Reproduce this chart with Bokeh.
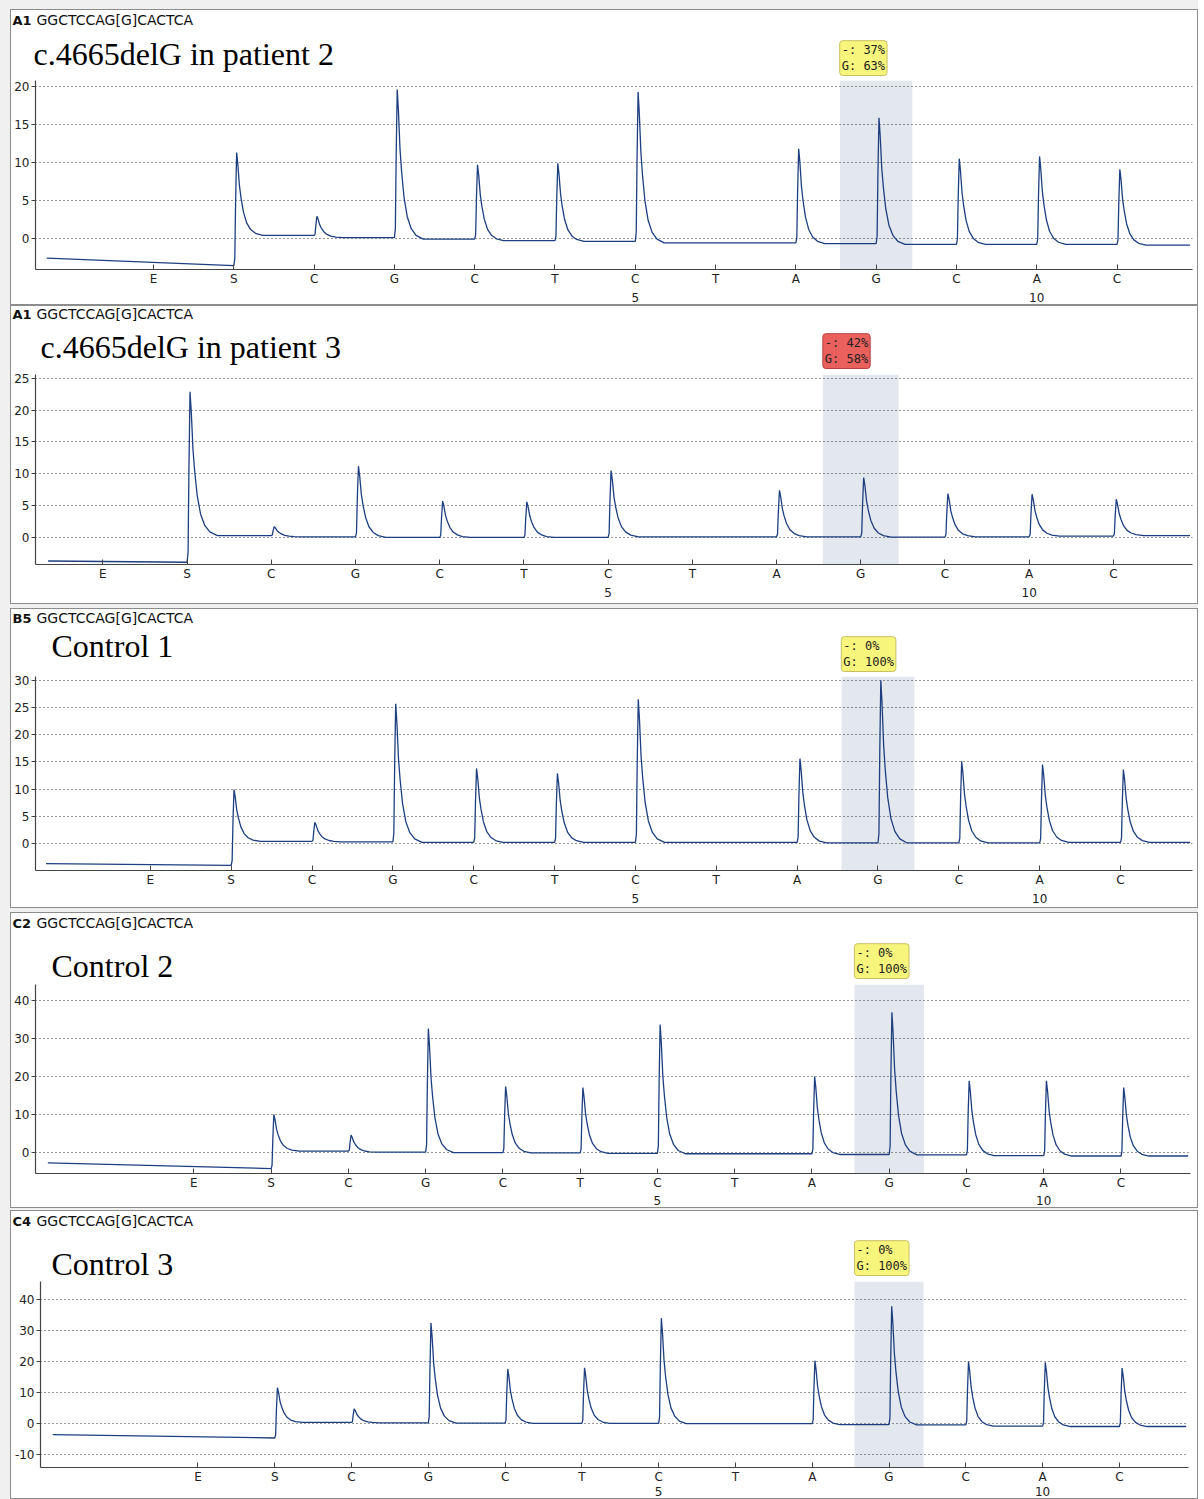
from bokeh.plotting import figure
from bokeh.models import FixedTicker, LinearAxis, Label, BoxAnnotation, Range1d, Spacer
from bokeh.layouts import column, row
from bokeh.embed import file_html
from bokeh.resources import INLINE

# ---------------- data ----------------
dispensations = ["E", "S", "C", "G", "C", "T", "C", "T", "A", "G", "C", "A", "C"]
seq_numbers = {6: "5", 11: "10"}
assay_seq = "GGCTCCAG[G]CACTCA"
well_ids = ["A1", "A1", "B5", "C2", "C4"]
titles = ["c.4665delG in patient 2", "c.4665delG in patient 3", "Control 1", "Control 2", "Control 3"]
del_pct = [37, 42, 0, 0, 0]
g_pct = [63, 58, 100, 100, 100]
variable_pos = 9  # the [G] dispensation

# peak tops (signal units) per dispensation, E has no peak
peaks_pat2 = [None, 11.3, 2.9, 19.6, 9.7, 9.9, 19.3, None, 11.8, 15.9, 10.5, 10.8, 9.1]
peaks_pat3 = [None, 22.9, 1.7, 11.2, 5.7, 5.6, 10.5, None, 7.4, 9.4, 6.9, 6.8, 6.0]
peaks_ctl1 = [None, 9.9, 3.9, 25.7, 13.8, 12.9, 26.5, None, 15.6, 30.0, 15.1, 14.5, 13.6]
peaks_ctl2 = [None, 10.0, 4.6, 32.6, 17.4, 17.1, 33.7, None, 20.0, 36.9, 18.9, 18.9, 17.1]
peaks_ctl3 = [None, 11.6, 4.8, 32.4, 17.6, 18.0, 34.0, None, 20.3, 37.8, 20.0, 19.8, 17.9]

# baseline level reached after each dispensation S..C
base_pat2 = [0.4, 0.1, -0.1, -0.3, -0.4, -0.6, -0.6, -0.7, -0.8, -0.8, -0.8, -0.9]
base_pat3 = [0.3, 0.1, 0.0, 0.0, 0.0, 0.1, 0.1, 0.1, 0.05, 0.1, 0.2, 0.3]
base_ctl1 = [0.4, 0.3, 0.2, 0.2, 0.2, 0.2, 0.2, 0.1, 0.1, 0.1, 0.2, 0.2]
base_ctl2 = [0.4, 0.1, 0.0, -0.1, -0.2, -0.3, -0.3, -0.5, -0.6, -0.8, -0.9, -0.9]
base_ctl3 = [0.4, 0.3, 0.2, 0.1, 0.1, 0.0, 0.0, -0.3, -0.4, -0.8, -0.9, -0.9]

# signal before the substrate peak: [at trace start, just before S]
pre_pat2 = [-2.6, -3.6]
pre_pat3 = [-3.7, -3.9]
pre_ctl1 = [-3.7, -4.0]
pre_ctl2 = [-2.7, -4.2]
pre_ctl3 = [-3.5, -4.6]

yticks_pat2 = [0, 5, 10, 15, 20]
yticks_pat3 = [0, 5, 10, 15, 20, 25]
yticks_ctl1 = [0, 5, 10, 15, 20, 25, 30]
yticks_ctl2 = [0, 10, 20, 30, 40]
yticks_ctl3 = [-10, 0, 10, 20, 30, 40]

panels_data = [
    (peaks_pat2, base_pat2, pre_pat2, yticks_pat2),
    (peaks_pat3, base_pat3, pre_pat3, yticks_pat3),
    (peaks_ctl1, base_ctl1, pre_ctl1, yticks_ctl1),
    (peaks_ctl2, base_ctl2, pre_ctl2, yticks_ctl2),
    (peaks_ctl3, base_ctl3, pre_ctl3, yticks_ctl3),
]

# ---------------- layout / style ----------------
CW = 1186  # canvas width inside panel border
# hh: header canvas height, ph: plot canvas height, pt/l/r/b: plot borders,
# hb: header baseline, tx/tb: title x / baseline, bb: result box bottom (header px),
# s2: standoff of the numbering axis
layout_cfg = [
    dict(hh=66, ph=228, pt=4, l=23, r=5, b=35, xr=(-1.47, 12.94), yr=(-4.1, 20.8), hb=14, tx=22, tb=54, bb=65, x0=-1.33, box="yellow", s2=4, gap_after=0),
    dict(hh=64, ph=233, pt=4, l=24, r=5, b=39, xr=(-0.80, 12.94), yr=(-4.25, 25.6), hb=12, tx=29, tb=51, bb=62, x0=-0.65, box="red", s2=4, gap_after=4),
    dict(hh=63, ph=235, pt=4, l=23, r=5, b=37, xr=(-1.42, 12.89), yr=(-4.96, 30.7), hb=13, tx=40, tb=47, bb=62, x0=-1.29, box="yellow", s2=4, gap_after=4),
    dict(hh=71, ph=223, pt=0, l=24, r=7, b=34, xr=(-2.05, 12.90), yr=(-5.5, 44.2), hb=14, tx=40, tb=63, bb=65, x0=-1.89, box="yellow", s2=3, gap_after=2),
    dict(hh=70, ph=217, pt=0, l=29, r=9, b=30, xr=(-2.05, 12.90), yr=(-14.1, 45.8), hb=14, tx=40, tb=63, bb=64, x0=-1.89, box="yellow", s2=0, gap_after=0),
]
BOX_COLORS = {"yellow": ("#f8f57c", "#c8c060"), "red": ("#e9605c", "#b84040")}
TRACE_COLOR = "#1d3f80"
AXIS_COLOR = "#444444"
LABEL_COLOR = "#222222"
HEAD_DESC = 3    # descent of the 13px header font
TITLE_DESC = 7   # descent of the 32px title font

# peak shape template (offset from dispensation, fraction of height)
PROFILE_DX = [0.0, 0.012, 0.022, 0.035, 0.05, 0.07, 0.09, 0.12, 0.16, 0.21, 0.27, 0.36]
PROFILE_F = [0.0, 0.06, 0.55, 1.0, 0.86, 0.6, 0.45, 0.28, 0.15, 0.07, 0.025, 0.0]
PEAK_I = 3


def build_trace(peaks, base, pre, x0, x1):
    xs = [x0, 1.0]
    ys = [pre[0], pre[1]]
    prev = pre[1]
    for i in range(1, len(dispensations)):
        h = peaks[i]
        nb = base[i - 1]
        if h is None:
            xs.append(i + 0.3)
            ys.append(nb)
        else:
            for k, (dx, f) in enumerate(zip(PROFILE_DX, PROFILE_F)):
                b0 = prev if k <= PEAK_I else nb
                xs.append(i + dx)
                ys.append(b0 + f * (h - b0))
        prev = nb
    xs.append(x1)
    ys.append(prev)
    return xs, ys


items = [Spacer(height=9)]
for idx, ((peaks, base, pre, yticks), cfg) in enumerate(zip(panels_data, layout_cfg)):
    xr0, xr1 = cfg["xr"]
    frame_w = CW - cfg["l"] - cfg["r"]
    scale = frame_w / (xr1 - xr0)
    hx0 = xr0 - cfg["l"] / scale

    def hx(px):
        return hx0 + px / scale

    # ---- header canvas: well id, sequence, title and allele-percentage box ----
    hh = cfg["hh"]
    head = figure(width=CW, height=hh,
                  x_range=Range1d(hx0, xr1 + cfg["r"] / scale),
                  y_range=Range1d(0, hh), output_backend="svg", toolbar_location=None,
                  x_axis_location=None, y_axis_location=None,
                  min_border=0, min_border_left=0, min_border_right=0,
                  min_border_top=0, min_border_bottom=0,
                  outline_line_color=None, background_fill_color="white",
                  border_fill_color="white")
    head.grid.visible = False
    hy = hh - cfg["hb"] - HEAD_DESC
    head.add_layout(Label(x=hx(1), y=hy, y_units="screen", text=well_ids[idx],
                          text_font="DejaVu Sans", text_font_style="bold",
                          text_font_size="13px", text_color="#111111", text_baseline="bottom"))
    head.add_layout(Label(x=hx(25), y=hy, y_units="screen", text=assay_seq,
                          text_font="DejaVu Sans", text_font_size="14px",
                          text_color="#111111", text_baseline="bottom"))
    head.add_layout(Label(x=hx(cfg["tx"]), y=hh - cfg["tb"] - TITLE_DESC, y_units="screen",
                          text=titles[idx], text_font="Liberation Serif", text_font_size="32px",
                          text_color="#000000", text_baseline="bottom"))
    fill, edge = BOX_COLORS[cfg["box"]]
    head.add_layout(Label(x=variable_pos - 0.45, y=hh - cfg["bb"], x_units="data", y_units="screen",
                          text=f"-: {del_pct[idx]}%\nG: {g_pct[idx]}%",
                          text_font="DejaVu Sans Mono", text_font_size="12px", text_color="#222222",
                          text_baseline="bottom", text_align="left",
                          background_fill_color=fill, background_fill_alpha=1.0,
                          border_line_color=edge, border_line_width=1,
                          padding=2, border_radius=3))

    # ---- pyrogram ----
    p = figure(width=CW, height=cfg["ph"], x_range=cfg["xr"], y_range=cfg["yr"],
               output_backend="svg", toolbar_location=None,
               min_border_left=cfg["l"], min_border_right=cfg["r"],
               min_border_top=cfg["pt"], min_border_bottom=cfg["b"],
               background_fill_color="white", border_fill_color="white",
               outline_line_color=None)

    p.add_layout(BoxAnnotation(left=variable_pos - 0.45, right=variable_pos + 0.45,
                               fill_color="#e3e7ee", fill_alpha=1.0, line_color=None,
                               level="image"))

    xs, ys = build_trace(peaks, base, pre, cfg["x0"], xr1 - 0.03)
    p.line(xs, ys, line_color=TRACE_COLOR, line_width=1.3)

    xa = p.xaxis[0]
    xa.ticker = FixedTicker(ticks=list(range(len(dispensations))))
    xa.major_label_overrides = {i: d for i, d in enumerate(dispensations)}
    xa.minor_tick_line_color = None
    xa.major_tick_in = 5
    xa.major_tick_out = 0
    xa.major_label_standoff = 2
    xa.axis_line_color = AXIS_COLOR
    xa.axis_line_width = 1.2
    xa.major_tick_line_color = AXIS_COLOR
    xa.major_label_text_font = "DejaVu Sans"
    xa.major_label_text_font_size = "12px"
    xa.major_label_text_color = LABEL_COLOR

    xa2 = LinearAxis(ticker=FixedTicker(ticks=list(seq_numbers.keys())),
                     major_label_overrides=dict(seq_numbers),
                     axis_line_color=None, major_tick_line_color=None,
                     major_tick_in=0, major_tick_out=0,
                     minor_tick_line_color=None, major_label_standoff=cfg["s2"],
                     major_label_text_font="DejaVu Sans",
                     major_label_text_font_size="12px",
                     major_label_text_color=LABEL_COLOR)
    p.add_layout(xa2, "below")

    ya = p.yaxis[0]
    ya.ticker = FixedTicker(ticks=yticks)
    ya.major_label_overrides = {t: str(t) for t in yticks}
    ya.minor_tick_line_color = None
    ya.major_tick_out = 4
    ya.major_tick_in = 0
    ya.major_label_standoff = 2
    ya.axis_line_color = AXIS_COLOR
    ya.axis_line_width = 1.2
    ya.major_tick_line_color = AXIS_COLOR
    ya.major_label_text_font = "DejaVu Sans"
    ya.major_label_text_font_size = "12px"
    ya.major_label_text_color = LABEL_COLOR

    p.xgrid.visible = False
    p.ygrid.grid_line_color = "#333333"
    p.ygrid.grid_line_dash = "1 3"
    p.ygrid.grid_line_width = 1

    # nest header in its own row so its frame is not aligned with the plot frame
    panel = column(row(head, spacing=0), row(p, spacing=0), spacing=0,
                   styles={"border": "1px solid #8c8c8c", "background-color": "white"})
    items.append(panel)
    if cfg["gap_after"]:
        items.append(Spacer(height=cfg["gap_after"]))

layout = row(Spacer(width=10), column(*items, spacing=0), spacing=0,
             styles={"background-color": "#f0f0f0"})
open("out.html", "w").write(file_html(layout, INLINE))
